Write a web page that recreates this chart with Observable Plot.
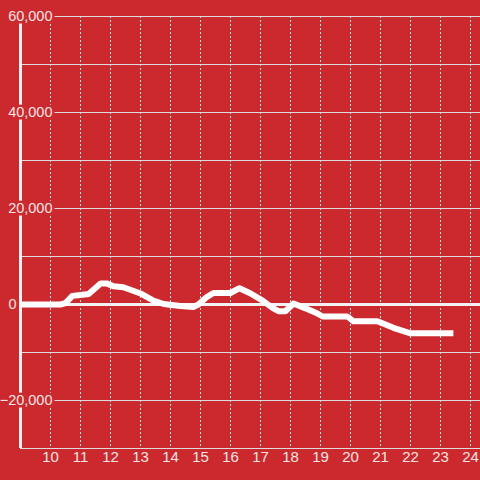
<!DOCTYPE html>
<html><head><meta charset="utf-8">
<script src="https://cdn.jsdelivr.net/npm/d3@7"></script>
<script src="https://cdn.jsdelivr.net/npm/@observablehq/plot@0.6"></script>
<style>body{margin:0;background:#cc292e;}</style>
</head><body><div id="chart"></div>
<script>
const hours  = [9.0, 10.33, 10.5, 10.73, 11.0, 11.27, 11.67, 11.87, 12.1, 12.43, 13.0, 13.43, 13.77, 14.33, 14.77, 14.93, 15.2, 15.43, 16.0, 16.3, 16.67, 17.07, 17.4, 17.6, 17.83, 18.1, 18.5, 18.9, 19.07, 19.9, 20.1, 20.9, 21.43, 22.0, 23.43];
const values = [0, 0, 300, 1800, 2000, 2200, 4400, 4400, 3800, 3600, 2300, 800, 100, -300, -500, 0, 1500, 2400, 2400, 3400, 2300, 800, -700, -1400, -1400, 200, -800, -1900, -2500, -2500, -3500, -3500, -4850, -6000, -6000];
const yGrid = [60000, 50000, 40000, 30000, 20000, 10000, -10000, -20000, -30000];
const yLabels = [60000, 40000, 20000, -20000];
const zeroLabel = [0];
const xTicks = [10, 11, 12, 13, 14, 15, 16, 17, 18, 19, 20, 21, 22, 23, 24];

const bg = "#cc292e";
const textColor = "#f3e4e4";
const data = hours.map((h, i) => ({h, v: values[i]}));
const fmt = d3.format(",");

const chart = Plot.plot({
  width: 480, height: 480,
  marginLeft: 20, marginRight: 0, marginTop: 16, marginBottom: 32,
  style: {background: bg, fontFamily: "'Liberation Sans', Arial, sans-serif", fontSize: "15px", color: textColor},
  x: {domain: [9, 9 + 460 / 30], axis: null},
  y: {domain: [-30000, 60000], axis: null},
  marks: [
    Plot.ruleX(xTicks, {stroke: "#e2e2e2", strokeDasharray: "2,2", strokeWidth: 1}),
    Plot.ruleY(yGrid, {stroke: "#dcdcdc", strokeWidth: 1}),
    Plot.ruleY([0], {stroke: "#f2f2f2", strokeWidth: 3}),
    Plot.ruleX([9], {stroke: "#f2f2f2", strokeWidth: 3}),
    Plot.text(yLabels, {x: () => 9, y: d => d, text: d => fmt(d), textAnchor: "end", dx: 32,
      fill: textColor, stroke: bg, strokeWidth: 5, paintOrder: "stroke", fontSize: 14.5}),
    Plot.text(zeroLabel, {x: () => 9, y: d => d, text: d => fmt(d), textAnchor: "end", dx: -4,
      fill: textColor, stroke: bg, strokeWidth: 3, paintOrder: "stroke", fontSize: 14.5}),
    Plot.line(data, {x: "h", y: "v", stroke: "#ffffff", strokeWidth: 6, strokeLinecap: "butt", strokeLinejoin: "round"}),
    Plot.text(xTicks, {x: d => d, frameAnchor: "bottom", dy: 13, text: d => String(d), fill: textColor, fontSize: 15})
  ]
});
document.getElementById("chart").appendChild(chart);
</script>
</body></html>
